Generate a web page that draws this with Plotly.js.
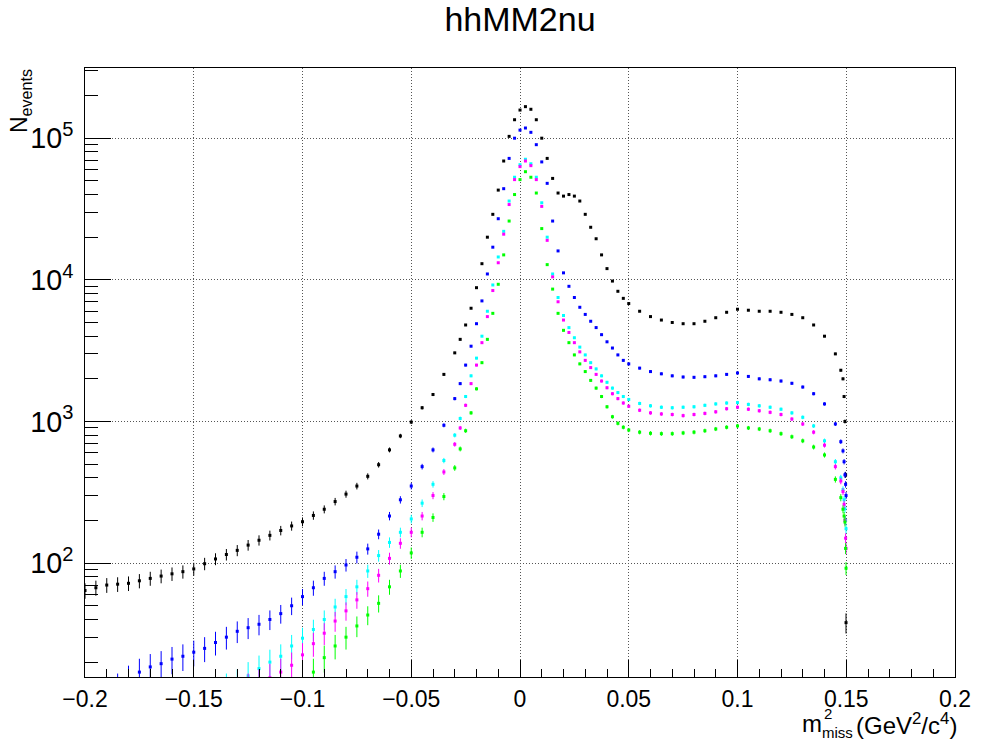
<!DOCTYPE html>
<html>
<head>
<meta charset="utf-8">
<script src="https://cdn.plot.ly/plotly-3.0.1.min.js"></script>
<style>html,body{margin:0;padding:0;background:#fff;}#plot{width:981px;height:740px;}</style>
</head>
<body>
<div id="plot"></div>
<script>
// bin centres (GeV^2/c^4)
const xs = [-0.2,-0.195,-0.19,-0.185,-0.18,-0.175,-0.17,-0.165,-0.16,-0.155,-0.15,-0.145,-0.14,-0.135,-0.13,-0.125,-0.12,-0.115,-0.11,-0.105,-0.1,-0.095,-0.09,-0.085,-0.08,-0.075,-0.07,-0.065,-0.06,-0.055,-0.05,-0.045,-0.04,-0.035,
-0.03,-0.0275,-0.025,-0.0225,-0.02,-0.0175,-0.015,-0.0125,-0.01,-0.0075,-0.005,-0.0025,0,0.0025,0.005,0.0075,0.01,0.0125,0.015,0.0175,0.02,0.0225,0.025,0.0275,0.03,0.0325,0.035,0.0375,0.04,0.0425,0.045,0.0475,0.05,
0.055,0.06,0.065,0.07,0.075,0.08,0.085,0.09,0.095,0.1,0.105,0.11,0.115,0.12,0.125,0.13,0.135,0.14,0.145,
0.1475,0.1485,0.149,0.1494,0.1497,0.1499];

const blackVals = [64,67,70,71,72,75,78,81,84,87,91,99,107,115,123,134,145,157,170,183,196,217,240,272,307,350,410,495,630,790,990,1250,1550,2150,
3050,3800,4800,6300,8800,13000,20000,29000,43000,69000,103000,135000,158000,167000,160000,135000,100000,72000,52000,41000,39000,40000,39000,36000,29000,23500,19500,15000,12000,9800,8300,7400,6800,
6000,5500,5200,5000,4900,4900,5100,5400,5900,6200,6100,6000,6000,5900,5700,5400,4800,4000,3000,
2300,2000,1500,1000,420,38];

const blueVals = [10,11,12,13,15,17,18.5,19.5,21,22,23.5,25,27.5,30,33,35,37,40,44,50,58,67,78,87,97,110,126,160,215,280,350,480,630,940,
1450,1850,2500,3400,4900,7100,11000,17000,27000,44000,72000,100000,114000,118000,110000,90000,68000,48000,26000,16000,11200,9000,7500,6400,5700,5100,4600,4100,3650,3300,2950,2700,2550,
2380,2250,2170,2100,2060,2050,2070,2100,2150,2200,2080,2000,1970,1930,1860,1750,1570,1330,960,
720,620,520,420,360,300];

const cyanVals = [null,null,null,null,null,null,null,null,null,null,null,null,12,13,14,16,18,20,22,26,29.5,34,40,49,58,68,88,113,140,165,205,265,360,530,
800,1050,1500,2100,2800,4000,6000,9200,14500,22000,36000,53000,65000,71000,66000,53000,35000,20000,11000,7500,5600,4600,3900,3350,2950,2600,2350,2100,1890,1720,1600,1500,1430,
1340,1290,1260,1250,1260,1270,1300,1330,1350,1360,1320,1290,1260,1220,1150,1070,930,730,520,
400,330,280,242,200,175];

const magentaVals = [null,null,null,null,null,null,null,null,null,null,null,null,null,null,12,13,14,15.5,17,19,22.5,27,32,39,46,55,66,82,108,138,165,215,300,440,
690,900,1300,1850,2500,3600,5500,8400,13200,21000,34000,51000,63000,69000,64000,51000,33000,19000,10500,7000,5200,4250,3600,3100,2700,2400,2150,1930,1730,1570,1450,1350,1280,
1200,1150,1130,1120,1100,1120,1140,1170,1230,1260,1220,1190,1160,1120,1040,960,840,680,480,
380,320,260,200,150,127];

const greenVals = [null,null,null,null,null,null,null,null,null,null,null,null,null,null,null,null,null,null,null,12,14,17,21.5,26,30,36,43,52,68,88,118,165,210,295,
470,640,860,1150,1700,2600,3800,5800,9300,15000,26000,40000,51000,58000,53000,41000,23000,12800,8600,5800,4400,3600,2950,2550,2250,1950,1720,1500,1270,1080,970,910,870,
840,825,820,820,830,840,860,885,910,930,900,885,860,820,780,730,660,580,390,
290,240,215,195,127,92];

const seriesNames = ['black','blue','cyan','magenta','green'];
const seriesColors = ['#000000','#0000ff','#00ffff','#ff00ff','#00ff00'];
const seriesVals = [blackVals, blueVals, cyanVals, magentaVals, greenVals];

const FONT = 'Liberation Sans, Arial, Helvetica, sans-serif';

const traces = seriesVals.map((v, i) => ({
  type: 'scatter',
  mode: 'markers',
  x: xs,
  y: v,
  name: seriesNames[i],
  marker: {color: seriesColors[i], size: 3, symbol: 'square'},
  error_y: {type: 'sqrt', visible: true, color: seriesColors[i], thickness: 1, width: 0},
  showlegend: false,
  hoverinfo: 'skip'
}));

// x-axis title pieces (stacked super/subscript as in the original)
const yT = -0.0706;
const yS = -4;
const layout = {
  width: 981, height: 740,
  margin: {l: 85, r: 26, t: 68, b: 63, pad: 0},
  paper_bgcolor: '#ffffff', plot_bgcolor: '#ffffff',
  font: {family: FONT, color: '#000000'},
  title: {text: 'hhMM2nu', font: {family: FONT, size: 34, color: '#000'}, xref: 'paper', x: 0.5, xanchor: 'center', yref: 'container', y: 0.974, yanchor: 'middle'},
  xaxis: {
    range: [-0.2, 0.2], tick0: -0.2, dtick: 0.05,
    ticks: 'inside', ticklen: 17, tickwidth: 1, tickcolor: '#000',
    minor: {dtick: 0.01, ticks: 'inside', ticklen: 8, tickwidth: 1, tickcolor: '#000', showgrid: false},
    showline: true, linecolor: '#000', linewidth: 1, mirror: true,
    showgrid: true, gridcolor: '#555', griddash: '1px,2px', gridwidth: 1,
    zeroline: false,
    tickfont: {family: FONT, size: 23, color: '#000'},
    ticklabelstandoff: 1
  },
  yaxis: {
    type: 'log', range: [Math.log10(15.7), Math.log10(313000)], dtick: 1,
    exponentformat: 'power',
    ticks: 'inside', ticklen: 26, tickwidth: 1, tickcolor: '#000',
    minor: {ticks: 'inside', ticklen: 13, tickwidth: 1, tickcolor: '#000', showgrid: false},
    showline: true, linecolor: '#000', linewidth: 1, mirror: true,
    showgrid: true, gridcolor: '#555', griddash: '1px,2px', gridwidth: 1,
    zeroline: false,
    tickfont: {family: FONT, size: 23, color: '#000'},
    ticklabelstandoff: 6
  },
  annotations: [
    {text: '(GeV<sup>2</sup>/c<sup>4</sup>)', xref: 'paper', yref: 'paper', x: 1, xanchor: 'right', xshift: 3, y: yT, yanchor: 'middle', yshift: yS, showarrow: false, borderpad: 0, font: {family: FONT, size: 24, color: '#000'}},
    {text: 'miss', xref: 'paper', yref: 'paper', x: 0.8839, xanchor: 'right', y: yT, yanchor: 'middle', yshift: yS - 9, showarrow: false, borderpad: 0, font: {family: FONT, size: 15, color: '#000'}},
    {text: '2', xref: 'paper', yref: 'paper', x: 0.8483, xanchor: 'left', y: yT, yanchor: 'middle', yshift: yS + 10, showarrow: false, borderpad: 0, font: {family: FONT, size: 15, color: '#000'}},
    {text: 'm', xref: 'paper', yref: 'paper', x: 0.8483, xanchor: 'right', y: yT, yanchor: 'middle', yshift: yS, showarrow: false, borderpad: 0, font: {family: FONT, size: 24, color: '#000'}},
    {text: 'N<sub>events</sub>', textangle: -90, xref: 'paper', yref: 'paper', x: -0.0747, xanchor: 'center', y: 1, yanchor: 'top', showarrow: false, borderpad: 0, font: {family: FONT, size: 23, color: '#000'}}
  ]
};

Plotly.newPlot('plot', traces, layout, {staticPlot: true, displayModeBar: false});
</script>
</body>
</html>
